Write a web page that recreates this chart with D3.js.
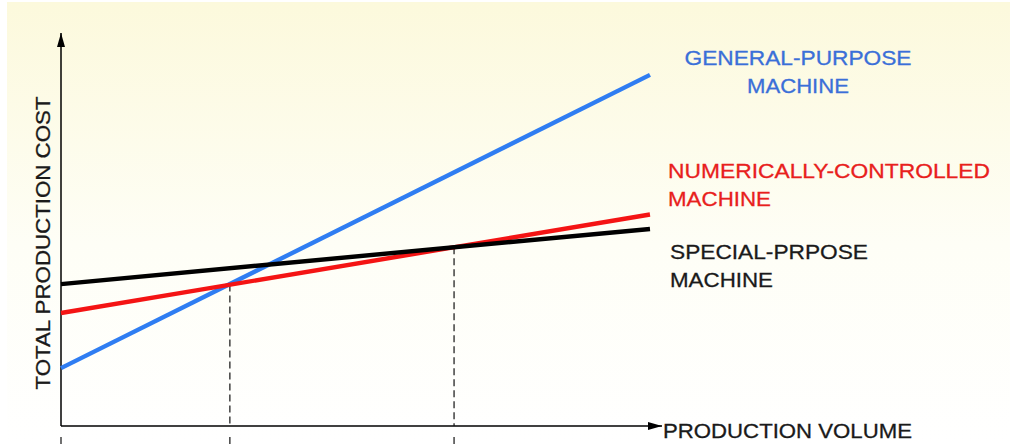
<!DOCTYPE html>
<html><head><meta charset="utf-8">
<script src="https://cdn.jsdelivr.net/npm/d3@7"></script>
<style>html,body{margin:0;padding:0;background:#fff;}svg{display:block;}</style>
</head><body>
<svg id="c" width="1010" height="444"></svg>
<script>
// data (arbitrary units: volume 0-100, cost 0-100)
const volumes = [0, 98];
const generalPurpose = [14.8, 89.8];
const numericallyControlled = [28.9, 54.1];
const specialPurpose = [36.3, 50.4];
const breakEvenVolumes = [28.1, 65.4];
const breakEvenCosts = [36.2, 45.7];
const seriesNames = ["GENERAL-PURPOSE|MACHINE", "NUMERICALLY-CONTROLLED|MACHINE", "SPECIAL-PRPOSE|MACHINE"];
const axisLabels = ["PRODUCTION VOLUME", "TOTAL PRODUCTION COST"];

const svg = d3.select("#c");
const W = 1010, H = 444;

// background gradient
const defs = svg.append("defs");
const g = defs.append("linearGradient").attr("id","bg").attr("x1",0).attr("y1",0).attr("x2",0).attr("y2",1);
g.append("stop").attr("offset","0%").attr("stop-color","#fcf9dc");
g.append("stop").attr("offset","55%").attr("stop-color","#fefef6");
g.append("stop").attr("offset","100%").attr("stop-color","#ffffff");
svg.append("rect").attr("x",0).attr("y",0).attr("width",W).attr("height",H).attr("fill","#fff");
svg.append("rect").attr("x",7).attr("y",2).attr("width",W-7).attr("height",H-2).attr("fill","url(#bg)");

defs.append("marker").attr("id","arr").attr("viewBox","0 0 14 8").attr("refX",14).attr("refY",4)
  .attr("markerWidth",14).attr("markerHeight",8).attr("markerUnits","userSpaceOnUse").attr("orient","auto")
  .append("path").attr("d","M0,0L14,4L0,8Z").attr("fill","#000");

const x = d3.scaleLinear().domain([0,100]).range([61,662]);
const y = d3.scaleLinear().domain([0,100]).range([426,35]);

// axes
svg.append("line").attr("x1",x(0)).attr("y1",y(0)).attr("x2",x(0)).attr("y2",y(100)-2)
  .attr("stroke","#000").attr("stroke-width",1.5).attr("marker-end","url(#arr)");
svg.append("line").attr("x1",x(0)).attr("y1",y(0)).attr("x2",x(100)).attr("y2",y(0))
  .attr("stroke","#000").attr("stroke-width",1.5).attr("marker-end","url(#arr)");

// dashed break-even guides
breakEvenVolumes.forEach((v,i)=>{
  svg.append("line").attr("x1",x(v)).attr("x2",x(v)).attr("y1",y(breakEvenCosts[i])).attr("y2",y(0))
    .attr("stroke","#111").attr("stroke-width",1.2).attr("stroke-dasharray","7,4");
});
// tick stubs below axis
[0].concat(breakEvenVolumes).forEach(v=>{
  svg.append("line").attr("x1",x(v)).attr("x2",x(v)).attr("y1",y(0)+11).attr("y2",H)
    .attr("stroke","#111").attr("stroke-width",1.2);
});

// lines
const lineGen = d3.line().x(d=>x(d[0])).y(d=>y(d[1]));
const series = [
  {vals:generalPurpose, color:"#2f7df2"},
  {vals:numericallyControlled, color:"#f41414"},
  {vals:specialPurpose, color:"#000000"}
];
series.forEach(s=>{
  svg.append("path").attr("d", lineGen(volumes.map((v,i)=>[v,s.vals[i]])))
    .attr("fill","none").attr("stroke",s.color).attr("stroke-width",4.4).attr("stroke-linecap","butt");
});

const font = "'Liberation Sans', Arial, sans-serif";
function label(txt, xp, yp, color, anchor, len){
  const t = svg.append("text").attr("x",xp).attr("y",yp).attr("fill",color)
    .attr("font-family",font).attr("font-size",21).attr("text-anchor",anchor)
    .attr("stroke",color).attr("stroke-width",0.3).text(txt);
  if(len) t.attr("textLength",len).attr("lengthAdjust","spacingAndGlyphs");
  return t;
}
const [gp1,gp2] = seriesNames[0].split("|");
label(gp1, 798, 65, "#3a6fd8", "middle", 227);
label(gp2, 798, 93, "#3a6fd8", "middle", 102);
const [nc1,nc2] = seriesNames[1].split("|");
label(nc1, 668, 178, "#e8201c", "start", 322);
label(nc2, 668, 206, "#e8201c", "start", 103);
const [sp1,sp2] = seriesNames[2].split("|");
label(sp1, 670, 259, "#1a1a1a", "start", 198);
label(sp2, 670, 287, "#1a1a1a", "start", 103);

label(axisLabels[0], 663, 438, "#1a1a1a", "start", 249);
svg.append("text").attr("transform","translate(50,243) rotate(-90)")
  .attr("fill","#1a1a1a").attr("stroke","#1a1a1a").attr("stroke-width",0.3)
  .attr("font-family",font).attr("font-size",21).attr("text-anchor","middle")
  .attr("textLength",293).attr("lengthAdjust","spacingAndGlyphs").text(axisLabels[1]);
</script>
</body></html>
